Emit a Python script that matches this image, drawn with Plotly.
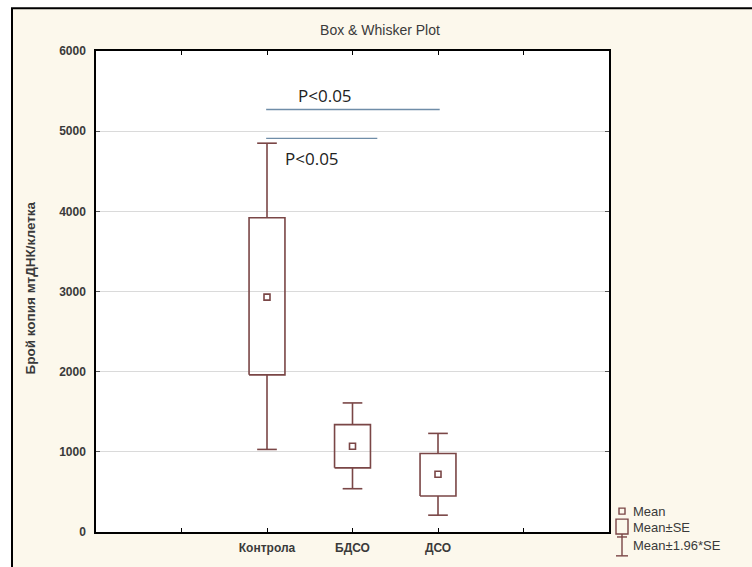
import plotly.graph_objects as go

# ---- data ----
categories = ["Контрола", "БДСО", "ДСО"]
cat_pos = [2, 3, 4]
mean_vals = [2930, 1070, 720]
se_low = [1960, 800, 450]
se_high = [3920, 1340, 980]
ci_low = [1030, 540, 210]
ci_high = [4850, 1610, 1230]

sig_x = [[1.99, 4.02], [1.99, 3.29]]
sig_y = [5270, 4910]
sig_text_x = [2.68, 2.53]
sig_text_y = [5450, 4660]
sig_labels = ["P<0.05", "P<0.05"]

y_ticks = [0, 1000, 2000, 3000, 4000, 5000, 6000]

# ---- style ----
BOX_COL = "#7A4646"
SIG_COL = "#6F8DA8"
BG = "#FCF8EC"
TXT = "#3A3A3A"
FONT = "Liberation Sans, Arial, sans-serif"

W, H = 752, 567
L, R, T, B = 96, 609, 51, 535


def px(xp, yp):
    return (xp - L) / (R - L), (B - yp) / (B - T)


half_box = 0.21
half_cap = 0.115

fig = go.Figure()

# box-and-whisker outlines built from the data
bx, by = [], []
for x, lo, hi, wlo, whi in zip(cat_pos, se_low, se_high, ci_low, ci_high):
    bx += [x - half_box, x + half_box, x + half_box, x - half_box, x - half_box, None]
    by += [lo, lo, hi, hi, lo, None]
    bx += [x, x, None, x - half_cap, x + half_cap, None]
    by += [hi, whi, None, whi, whi, None]
    bx += [x, x, None, x - half_cap, x + half_cap, None]
    by += [lo, wlo, None, wlo, wlo, None]

fig.add_trace(go.Scatter(x=bx, y=by, mode="lines",
                         line=dict(color=BOX_COL, width=1.6),
                         hoverinfo="skip", showlegend=False))

fig.add_trace(go.Scatter(x=cat_pos, y=mean_vals, mode="markers",
                         marker=dict(symbol="square-open", size=6,
                                     color=BOX_COL, line=dict(width=1.6)),
                         showlegend=False))

# significance lines
for xs, yv in zip(sig_x, sig_y):
    fig.add_trace(go.Scatter(x=xs, y=[yv, yv], mode="lines",
                             line=dict(color=SIG_COL, width=1.4),
                             hoverinfo="skip", showlegend=False))

annotations = []
for tx, ty, lab in zip(sig_text_x, sig_text_y, sig_labels):
    annotations.append(dict(x=tx, y=ty, xref="x", yref="y", text=lab,
                            showarrow=False, xanchor="center", yanchor="middle",
                            font=dict(family="Open Sans, sans-serif", size=17, color="#222")))

# y axis title
ax, ay = px(31, 290)
annotations.append(dict(x=ax, y=ay, xref="paper", yref="paper",
                        text="<b>Брой копия мтДНК/клетка</b>", textangle=-90,
                        xanchor="center", yanchor="middle",
                        showarrow=False, font=dict(family=FONT, size=13.5, color=TXT)))

# legend text
for label, yy in [("Mean", 514), ("Mean±SE", 530), ("Mean±1.96*SE", 549)]:
    lx, ly = px(631, yy)
    annotations.append(dict(x=lx, y=ly, xref="paper", yref="paper", text=label,
                            xanchor="left", yanchor="middle", showarrow=False,
                            font=dict(family=FONT, size=13, color=TXT)))

shapes = []
# white margin outside the outer frame (left and top) + outer frame
x0p, y0p = px(-5, -5)
x12, y8 = px(12, 8)
x_far, y_far = px(800, 620)
shapes.append(dict(type="rect", xref="paper", yref="paper", x0=x0p, y0=y_far, x1=x12, y1=y0p,
                   fillcolor="white", line=dict(width=0), layer="above"))
shapes.append(dict(type="rect", xref="paper", yref="paper", x0=x0p, y0=y8, x1=x_far, y1=y0p,
                   fillcolor="white", line=dict(width=0), layer="above"))
shapes.append(dict(type="rect", xref="paper", yref="paper", x0=x12, y0=y_far, x1=x_far, y1=y8,
                   line=dict(color="black", width=2), layer="above"))


def rect(x0, y0, x1, y1):
    a, b = px(x0, y0)
    c, d = px(x1, y1)
    return dict(type="rect", xref="paper", yref="paper", x0=a, y0=b, x1=c, y1=d,
                line=dict(color=BOX_COL, width=1.4))


def seg(x0, y0, x1, y1):
    a, b = px(x0, y0)
    c, d = px(x1, y1)
    return dict(type="line", xref="paper", yref="paper", x0=a, y0=b, x1=c, y1=d,
                line=dict(color=BOX_COL, width=1.4))


# legend symbols
shapes.append(rect(619, 511, 625, 517))
shapes.append(rect(616, 522, 628, 537))
shapes.append(seg(622, 537, 622, 559))
shapes.append(seg(617, 540, 627, 540))
shapes.append(seg(616, 559, 628, 559))

title_x, _ = px(380, 0)

fig.update_layout(
    width=W, height=H,
    margin=dict(l=L, r=W - R, t=T, b=H - B, pad=0),
    paper_bgcolor=BG, plot_bgcolor="white",
    title=dict(text="Box & Whisker Plot", x=title_x, xref="paper", xanchor="center",
               y=1 - 30 / H, yanchor="middle", yref="container",
               font=dict(family=FONT, size=14, color=TXT)),
    font=dict(family=FONT, size=12, color=TXT),
    annotations=annotations, shapes=shapes,
    showlegend=False,
    xaxis=dict(range=[0, 6], tickvals=[1] + cat_pos + [5],
               ticktext=[""] + ["<b>%s</b>" % c for c in categories] + [""],
               showline=True, linecolor="black", linewidth=1.5, mirror="ticks",
               ticks="inside", ticklen=4, tickcolor="black",
               showgrid=False, zeroline=False, fixedrange=True,
               ticklabelstandoff=4,
               tickfont=dict(family=FONT, size=12, color=TXT)),
    yaxis=dict(range=[0, 6000], tickvals=y_ticks,
               ticktext=["<b>%d</b>" % v for v in y_ticks],
               showline=True, linecolor="black", linewidth=1.5, mirror="ticks",
               ticks="inside", ticklen=4, tickcolor="#555",
               showgrid=True, gridcolor="#DADADA", gridwidth=1,
               zeroline=False, fixedrange=True,
               ticklabelstandoff=6,
               tickfont=dict(family=FONT, size=12, color=TXT)),
)

fig.write_html("out.html", config={"displayModeBar": False},
               post_script="document.body.style.margin='0';document.body.style.overflow='hidden';")
